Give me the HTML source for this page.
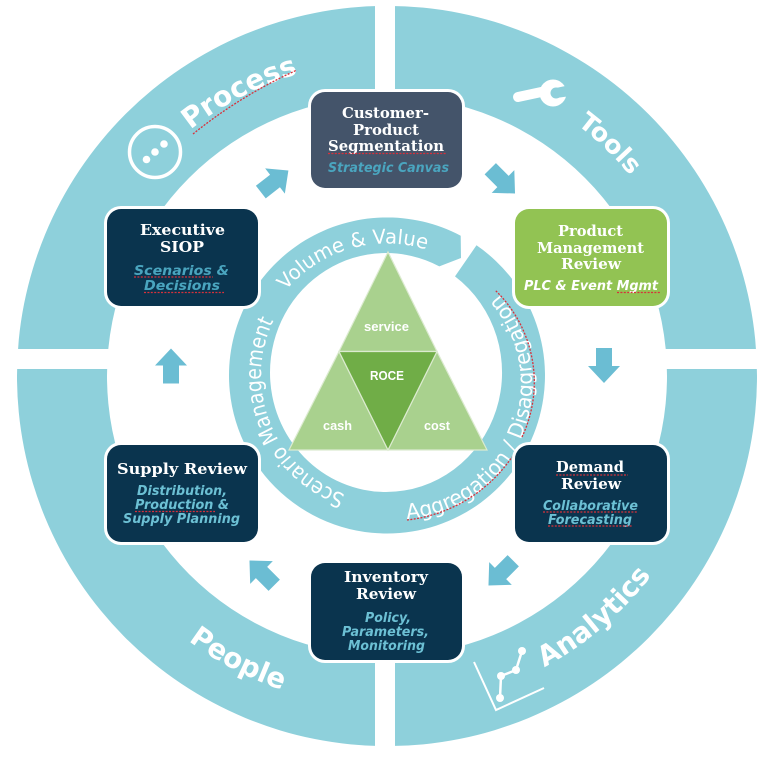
<!DOCTYPE html>
<html>
<head>
<meta charset="utf-8">
<style>
html,body{margin:0;padding:0;background:#fff;width:770px;height:759px;overflow:hidden}
svg{display:block}
.h{font-family:"DejaVu Serif","Liberation Serif",serif;font-weight:700;font-size:15px;fill:#fff}
.s{font-family:"DejaVu Sans","Liberation Sans",sans-serif;font-weight:700;font-style:italic;font-size:13px;fill:#6cc0d4}
.big{font-family:"DejaVu Sans","Liberation Sans",sans-serif;font-weight:700;font-size:28px;fill:#fff}
.ring{font-family:"DejaVu Sans","Liberation Sans",sans-serif;font-size:20px;fill:#fff}
.t{font-family:"Liberation Sans",sans-serif;font-weight:700;font-size:12.500px;fill:#fff}
.q{fill:none;stroke:#d8303a;stroke-width:1.300;stroke-dasharray:2 1.400}
</style>
</head>
<body>
<svg width="770" height="759" viewBox="0 0 770 759" xmlns="http://www.w3.org/2000/svg">
<defs>
<path id="pProcess" d="M190.500 129.800A315 315 0 0 1 387 61"/>
<path id="pTools" d="M577 124.600A315 315 0 0 1 683 268"/>
<path id="pAnalytics" d="M544.400 667.200A331 331 0 0 0 713 433.500"/>
<path id="pPeople" d="M188.400 640.700A331 331 0 0 0 444 702"/>
<path id="pVol" d="M285.900 290.600A132 132 0 0 1 471.800 274.400"/>
<path id="pScen" d="M345.400 494.400A126 126 0 0 1 290.500 294.500"/>
<path id="pAgg" d="M407 519A135.400 135.400 0 0 0 464.700 266.700"/>
</defs>

<!-- outer ring -->
<path fill-rule="evenodd" fill="#8ed0db" d="M17 376A370 370 0 1 1 757 376A370 370 0 1 1 17 376ZM107 376A280 280 0 1 0 667 376A280 280 0 1 0 107 376Z"/>
<rect x="375" y="0" width="20" height="759" fill="#fff"/>
<rect x="0" y="349" width="770" height="20" fill="#fff"/>

<!-- outer ring labels -->
<text class="big"><textPath href="#pProcess" textLength="122" lengthAdjust="spacingAndGlyphs">Process</textPath></text>
<text class="big" style="font-size:25px"><textPath href="#pTools" textLength="74" lengthAdjust="spacingAndGlyphs">Tools</textPath></text>
<text class="big"><textPath href="#pAnalytics" textLength="142" lengthAdjust="spacingAndGlyphs">Analytics</textPath></text>
<text class="big"><textPath href="#pPeople" textLength="106" lengthAdjust="spacingAndGlyphs">People</textPath></text>
<path class="q" d="M193 134Q240 96 297 70"/>

<!-- process icon -->
<circle cx="155" cy="152" r="25.500" fill="none" stroke="#fff" stroke-width="3.500"/>
<circle cx="146.500" cy="159.500" r="3.800" fill="#fff"/>
<circle cx="155" cy="152" r="3.800" fill="#fff"/>
<circle cx="164" cy="144" r="3.800" fill="#fff"/>

<!-- wrench icon -->
<line x1="518" y1="97" x2="546" y2="91" stroke="#fff" stroke-width="10" stroke-linecap="round"/>
<circle cx="553" cy="93" r="13.500" fill="#fff"/>
<circle cx="556" cy="93" r="5.500" fill="#8ed0db"/>
<polygon points="556,88 570,85 571,96 556,98" fill="#8ed0db"/>

<!-- chart icon -->
<polyline points="474,662 496,710 544,688" fill="none" stroke="#fff" stroke-width="2"/>
<polyline points="500,698 501,676 516,670 522,651" fill="none" stroke="#fff" stroke-width="2.500"/>
<circle cx="500" cy="698" r="4" fill="#fff"/>
<circle cx="501" cy="676" r="4" fill="#fff"/>
<circle cx="516" cy="670" r="4" fill="#fff"/>
<circle cx="522" cy="651" r="4" fill="#fff"/>

<!-- inner ring -->
<path fill="#8ed0db" d="M476.500 245.300A158 158 0 0 1 387 533.500A158 158 0 0 1 229 375.500A158 158 0 0 1 460.700 235.700L461 258L439.300 266.400A116 119.500 0 0 0 270 372.500A116 119.500 0 0 0 386 492A116 119.500 0 0 0 455 276.400Z"/>
<text class="ring"><textPath href="#pVol" textLength="155" lengthAdjust="spacingAndGlyphs">Volume &amp; Value</textPath></text>
<text class="ring" style="font-size:21.500px"><textPath href="#pScen" textLength="212" lengthAdjust="spacingAndGlyphs">Scenario Management</textPath></text>
<text class="ring" style="font-size:21px"><textPath href="#pAgg" textLength="300" lengthAdjust="spacingAndGlyphs">Aggregation / Disaggregation</textPath></text>
<path class="q" d="M407 520A147 147 0 0 0 512 457"/>
<path class="q" d="M522 437A128 128 0 0 0 495 290"/>

<!-- triangle -->
<g stroke="#dcebd0" stroke-width="1.200">
<polygon points="388,252 437,351.500 339,351.500" fill="#a9d18e"/>
<polygon points="339,351.500 388,450 289,450" fill="#a9d18e"/>
<polygon points="437,351.500 487,450 388,450" fill="#a9d18e"/>
<polygon points="339,351.500 437,351.500 388,450" fill="#70ad47"/>
</g>
<text class="t" x="364" y="331" textLength="45" lengthAdjust="spacingAndGlyphs">service</text>
<text class="t" x="370" y="380" textLength="34" lengthAdjust="spacingAndGlyphs">ROCE</text>
<text class="t" x="323" y="430" textLength="29" lengthAdjust="spacingAndGlyphs">cash</text>
<text class="t" x="424" y="430" textLength="26" lengthAdjust="spacingAndGlyphs">cost</text>

<!-- arrows -->
<g fill="#6bbdd3">
<polygon points="17,0 0,16 0,8 -18,8 -18,-8 0,-8 0,-16" transform="translate(171 365.500) rotate(-90)"/>
<polygon points="17,0 0,16 0,8 -18,8 -18,-8 0,-8 0,-16" transform="translate(604 366) rotate(90)"/>
<polygon points="17,0 0,16 0,8 -18,8 -18,-8 0,-8 0,-16" transform="translate(275 181) rotate(-38)"/>
<polygon points="17,0 0,16 0,8 -18,8 -18,-8 0,-8 0,-16" transform="translate(503 181.500) rotate(45)"/>
<polygon points="17,0 0,16 0,8 -18,8 -18,-8 0,-8 0,-16" transform="translate(500.500 573.500) rotate(135)"/>
<polygon points="17,0 0,16 0,8 -18,8 -18,-8 0,-8 0,-16" transform="translate(261.500 572.500) rotate(-135)"/>
</g>

<!-- boxes: white outline -->
<g fill="#fff">
<rect x="308" y="89" width="157" height="102" rx="17"/>
<rect x="104" y="206" width="157" height="103" rx="17"/>
<rect x="512" y="206" width="158" height="103" rx="17"/>
<rect x="104" y="442" width="157" height="103" rx="17"/>
<rect x="512" y="442" width="158" height="103" rx="17"/>
<rect x="308" y="560" width="157" height="103" rx="17"/>
</g>
<rect x="311" y="92" width="151" height="96" rx="14" fill="#44546a"/>
<rect x="107" y="209" width="151" height="97" rx="14" fill="#0a344e"/>
<rect x="515" y="209" width="152" height="97" rx="14" fill="#92c353"/>
<rect x="107" y="445" width="151" height="97" rx="14" fill="#0a344e"/>
<rect x="515" y="445" width="152" height="97" rx="14" fill="#0a344e"/>
<rect x="311" y="563" width="151" height="97" rx="14" fill="#0a344e"/>

<!-- Customer -->
<text class="h" x="342" y="118" textLength="87" lengthAdjust="spacingAndGlyphs">Customer-</text>
<text class="h" x="353" y="135" textLength="66" lengthAdjust="spacingAndGlyphs">Product</text>
<text class="h" x="328" y="151" textLength="116" lengthAdjust="spacingAndGlyphs">Segmentation</text>
<text class="s" x="328" y="172" textLength="121" lengthAdjust="spacingAndGlyphs" style="fill:#4aa5bf">Strategic Canvas</text>
<path class="q" d="M328 153.500H447"/>

<!-- Executive -->
<text class="h" x="140" y="235" textLength="85" lengthAdjust="spacingAndGlyphs">Executive</text>
<text class="h" x="160" y="252" textLength="44" lengthAdjust="spacingAndGlyphs">SIOP</text>
<text class="s" x="134" y="275" textLength="95" lengthAdjust="spacingAndGlyphs" style="fill:#4aa5bf">Scenarios &amp;</text>
<text class="s" x="144" y="290" textLength="76" lengthAdjust="spacingAndGlyphs" style="fill:#4aa5bf">Decisions</text>
<path class="q" d="M134 277H213M144 292.500H224"/>

<!-- Product -->
<text class="h" x="558" y="236" textLength="65" lengthAdjust="spacingAndGlyphs">Product</text>
<text class="h" x="537" y="253" textLength="107" lengthAdjust="spacingAndGlyphs">Management</text>
<text class="h" x="561" y="269" textLength="60" lengthAdjust="spacingAndGlyphs">Review</text>
<text class="s" x="524" y="290" textLength="134" lengthAdjust="spacingAndGlyphs" style="fill:#fff">PLC &amp; Event Mgmt</text>
<path class="q" d="M617 292.500H660"/>

<!-- Supply -->
<text class="h" x="117" y="474" textLength="130" lengthAdjust="spacingAndGlyphs">Supply Review</text>
<text class="s" x="137" y="495" textLength="90" lengthAdjust="spacingAndGlyphs">Distribution,</text>
<text class="s" x="135" y="509" textLength="94" lengthAdjust="spacingAndGlyphs">Production &amp;</text>
<text class="s" x="123" y="523" textLength="117" lengthAdjust="spacingAndGlyphs">Supply Planning</text>
<path class="q" d="M135 511.500H215"/>

<!-- Demand -->
<text class="h" x="556" y="472" textLength="68" lengthAdjust="spacingAndGlyphs">Demand</text>
<text class="h" x="561" y="489" textLength="60" lengthAdjust="spacingAndGlyphs">Review</text>
<text class="s" x="543" y="510" textLength="95" lengthAdjust="spacingAndGlyphs">Collaborative</text>
<text class="s" x="548" y="524" textLength="84" lengthAdjust="spacingAndGlyphs">Forecasting</text>
<path class="q" d="M556 475H628M543 512H638M548 526H632"/>

<!-- Inventory -->
<text class="h" x="344" y="582" textLength="84" lengthAdjust="spacingAndGlyphs">Inventory</text>
<text class="h" x="356" y="599" textLength="60" lengthAdjust="spacingAndGlyphs">Review</text>
<text class="s" x="365" y="622" textLength="46" lengthAdjust="spacingAndGlyphs">Policy,</text>
<text class="s" x="342" y="636" textLength="87" lengthAdjust="spacingAndGlyphs">Parameters,</text>
<text class="s" x="348" y="650" textLength="77" lengthAdjust="spacingAndGlyphs">Monitoring</text>
</svg>
</body>
</html>
